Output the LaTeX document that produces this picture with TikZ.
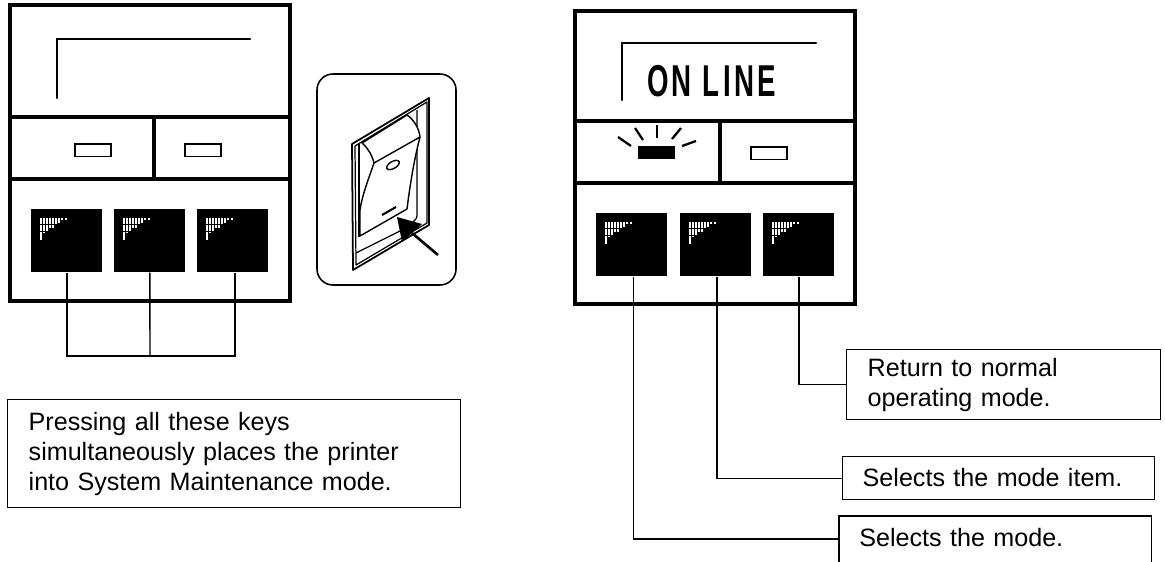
\documentclass[tikz,border=0pt]{standalone}
\usepackage{fontspec}
\setmainfont{Liberation Sans}
\usepackage{tikz}
\tikzset{
panelline/.style={line width=2pt},
displine/.style={line width=1.4pt,line cap=round},
thinline/.style={line width=0.8pt},
keybox/.style={fill=black,inner sep=0pt,minimum width=1.42cm,minimum height=1.26cm,anchor=north west},
ledoff/.style={draw,line width=1pt,fill=white,inner sep=0pt,minimum width=0.72cm,minimum height=0.25cm,anchor=north west},
ledon/.style={fill=black,inner sep=0pt,minimum width=0.74cm,minimum height=0.26cm,anchor=north west},
notetext/.style={inner sep=0pt,anchor=north west,align=left,font=\fontsize{14.3}{17}\selectfont},
notebox/.style={notetext,draw,thinline},
}
\newcommand{\drawKeyGlint}[2]{
\foreach \dx/\dh in {9/22,12/15,15/13,18/10,21/10,24/7,27/5,30/2,34/2}
\fill [white] (#1+\dx,#2+9) rectangle ++(2,\dh);
\fill [black] (#1+9,#2+15) rectangle ++(20,1);
\fill [black] (#1+9,#2+22) rectangle ++(12,1);
}
\begin{document}
\begin{tikzpicture}[x=0.02cm,y=-0.02cm]
\useasboundingbox (0,0) rectangle (1165,561);
% left panel
\draw [panelline] (10,5) rectangle (290,301);
\draw [panelline] (10,117) -- (290,117);
\draw [panelline] (10,179) -- (290,179);
\draw [panelline] (154,117) -- (154,179);
\draw [displine] (57,98) -- (57,39) -- (250,39);
\node [ledoff] (lledA) at (74,143) {};
\node [ledoff] (lledB) at (184,143) {};
\node [keybox] (lkeyA) at (31,209) {};
\node [keybox] (lkeyB) at (114,209) {};
\node [keybox] (lkeyC) at (197,209) {};
\drawKeyGlint{31}{209};
\drawKeyGlint{114}{209};
\drawKeyGlint{197}{209};
\coordinate (ljoin) at (150,356);
\draw [thinline] (lkeyA.south) |- (ljoin);
\draw [thinline] (lkeyB.south) -- (ljoin);
\draw [thinline] ([xshift=0.04cm]lkeyC.south) |- (ljoin);
\node [notebox,minimum width=9.06cm,minimum height=2.16cm,text width=9.06cm] (pressbox) at (7,399) {\hspace*{0.42cm}Pressing all these keys\\\hspace*{0.42cm}simultaneously places the printer\\\hspace*{0.42cm}into System Maintenance mode.};
% power switch
\draw [line width=0.9pt,rounded corners=0.32cm] (317,74) rectangle (456,285);
\draw [line width=1pt,line join=round] (352,144) -- (429,98) -- (429,225) -- (353,270) -- cycle;
\draw [line width=0.7pt,line join=round] (355,146) -- (427,102) -- (427,223) -- (356,265) -- cycle;
\draw [line width=0.7pt] (359,144) -- (359,237);
\draw [line width=0.7pt] (417,110) -- (417,213) .. controls (417,218) .. (413,222);
\draw [line width=0.7pt] (356,253) -- (402,230);
\draw [line width=0.8pt,fill=white,line join=round] (362,143) -- (407,115) .. controls (414,120) and (419,128) .. (420,137) .. controls (414,160) and (410,185) .. (407,209) -- (360,236) -- (360,210) .. controls (362,195) and (370,175) .. (374,163) .. controls (372,155) and (368,148) .. (362,143) -- cycle;
\draw [line width=0.8pt] (374,163) -- (420,137);
\draw [line width=0.8pt,rotate around={30:(393,165)}] (393,165) ellipse [x radius=7,y radius=3.5];
\draw [line width=1.2pt] (382,215) -- (396,207);
\fill (397,217) -- (422,224) -- (402,242) -- cycle;
\draw [line width=1.5pt] (412,233) -- (438,255);
% right panel
\draw [panelline] (575,11) rectangle (855,304);
\draw [panelline] (575,121) -- (855,121);
\draw [panelline] (575,183) -- (855,183);
\draw [panelline] (720,121) -- (720,183);
\draw [displine] (622,100) -- (622,43) -- (816,43);
\node [inner sep=0pt] (onlinetxt) at (711.5,81) {\fontsize{25.4}{26}\selectfont\bfseries\addfontfeature{LetterSpace=12}\scalebox{0.62}[1]{ON LINE}};
\node [ledon] (rledA) at (638,146) {};
\foreach \xa/\ya/\xb/\yb in {618/137/631/146,635/128/643/140,657/125/657/138,681/128/672/139,696/141/682/146}
\draw [line width=1.3pt] (\xa,\ya) -- (\xb,\yb);
\node [ledoff] (rledB) at (750,146) {};
\node [keybox] (rkeyA) at (596,213) {};
\node [keybox] (rkeyB) at (680,213) {};
\node [keybox] (rkeyC) at (763,213) {};
\drawKeyGlint{596}{213};
\drawKeyGlint{680}{213};
\drawKeyGlint{763}{213};
\node [notebox,minimum width=6.28cm,minimum height=1.4cm,text width=6.28cm] (returnbox) at (846,349) {\hspace*{0.42cm}Return to normal\\\hspace*{0.42cm}operating mode.};
\node [notebox,minimum width=6.24cm,minimum height=0.86cm,text width=6.24cm] (itembox) at (842,456) {\hspace*{0.4cm}\raisebox{0.05cm}{Selects the mode item.}};
\node [notetext,minimum width=6.24cm,minimum height=0.9cm,text width=6.24cm] (modebox) at (839,516) {\hspace*{0.4cm}\raisebox{0.05cm}{Selects the mode.}};
\draw [thinline] (modebox.south west) -- (modebox.north west) -- (modebox.north east) -- (modebox.south east);
\draw [thinline] (rkeyC.south) |- (returnbox.west);
\draw [thinline] ([xshift=0.02cm]rkeyB.south) |- (itembox.west);
\draw [thinline] ([xshift=0.03cm]rkeyA.south) |- (modebox.west);
\end{tikzpicture}
\end{document}
